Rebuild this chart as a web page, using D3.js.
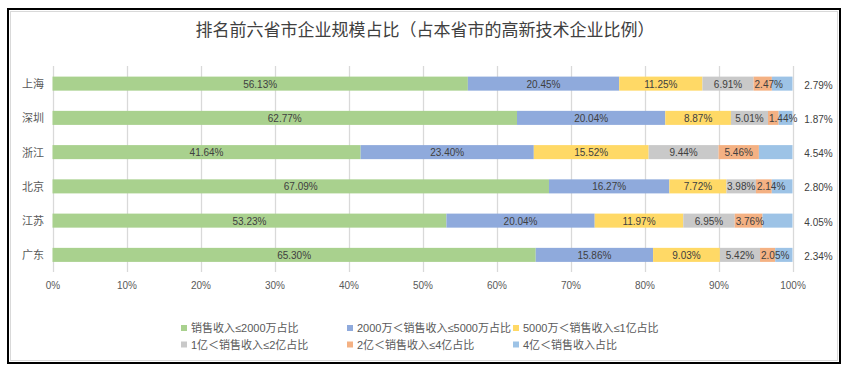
<!DOCTYPE html>
<html><head><meta charset="utf-8">
<script src="https://cdn.jsdelivr.net/npm/d3@7"></script>
<style>
html,body{margin:0;padding:0;background:#fff;}
svg{display:block;}
</style></head>
<body>
<svg id="chart" width="865" height="369"></svg>
<script>
const title = "排名前六省市企业规模占比（占本省市的高新技术企业比例）";
const categories = ["上海","深圳","浙江","北京","江苏","广东"];
const seriesNames = ["销售收入≤2000万占比","2000万＜销售收入≤5000万占比","5000万＜销售收入≤1亿占比","1亿＜销售收入≤2亿占比","2亿＜销售收入≤4亿占比","4亿＜销售收入占比"];
const seriesColors = ["#A9D18E","#8FAADC","#FFD966","#C9C9C9","#F4B183","#9DC3E6"];
const s1 = [56.13,62.77,41.64,67.09,53.23,65.30];
const s2 = [20.45,20.04,23.40,16.27,20.04,15.86];
const s3 = [11.25,8.87,15.52,7.72,11.97,9.03];
const s4 = [6.91,5.01,9.44,3.98,6.95,5.42];
const s5 = [2.47,1.44,5.46,2.14,3.76,2.05];
const s6 = [2.79,1.87,4.54,2.80,4.05,2.34];
const seriesValues = [s1,s2,s3,s4,s5,s6];
const xTicks = [0,10,20,30,40,50,60,70,80,90,100];

const svg = d3.select("#chart");
// frame
svg.append("rect").attr("x",8).attr("y",9).attr("width",832).attr("height",354)
  .attr("fill","#fff").attr("stroke","#000").attr("stroke-width",2);
svg.append("rect").attr("x",10.5).attr("y",11.5).attr("width",827).attr("height",349)
  .attr("fill","none").attr("stroke","#d9d9d9").attr("stroke-width",1);

svg.append("text").attr("x",425).attr("y",36).attr("text-anchor","middle")
  .attr("font-family","'Noto Sans CJK SC'").attr("font-size",17).attr("fill","#404040")
  .text(title);

const x = d3.scaleLinear().domain([0,100]).range([52.5,792.5]);
const y = d3.scaleBand().domain(categories).range([66.5,272]).paddingInner(0.59).paddingOuter(0.295);

// gridlines
svg.append("g").selectAll("line").data(xTicks).join("line")
  .attr("x1",d=>Math.round(x(d))+0.5).attr("x2",d=>Math.round(x(d))+0.5)
  .attr("y1",66).attr("y2",272).attr("stroke","#d9d9d9").attr("stroke-width",1.3);

// x axis labels
const xAxis = d3.axisBottom(x).tickValues(xTicks).tickFormat(d=>d+"%").tickSize(0).tickPadding(0);
const gx = svg.append("g").attr("transform","translate(0,282)").call(xAxis);
gx.select(".domain").remove();
gx.selectAll("text").attr("font-family","'Liberation Sans',Arial").attr("font-size",10).attr("fill","#595959");

// y axis labels
const yAxis = d3.axisLeft(y).tickSize(0).tickPadding(0);
const gy = svg.append("g").attr("transform","translate(44,1)").call(yAxis);
gy.select(".domain").remove();
gy.selectAll("text").attr("font-family","'Noto Sans CJK SC'").attr("font-size",11).attr("fill","#595959");

// stacked data
const rows = categories.map((c,i)=>{const o={cat:c}; seriesValues.forEach((s,k)=>o["k"+k]=s[i]); return o;});
const stack = d3.stack().keys(seriesValues.map((s,k)=>"k"+k));
const stacked = stack(rows);

const gBars = svg.append("g");
stacked.forEach((layer,k)=>{
  gBars.append("g").attr("fill",seriesColors[k]).selectAll("rect").data(layer).join("rect")
    .attr("x",d=>x(d[0])).attr("width",d=>x(Math.min(d[1],100))-x(d[0]))
    .attr("y",d=>y(d.data.cat)).attr("height",y.bandwidth());
});
const gLab = svg.append("g").attr("font-family","'Liberation Sans',Arial").attr("font-size",10)
  .attr("fill","#404040");
stacked.forEach((layer,k)=>{
  gLab.selectAll(null).data(layer).join("text")
    .attr("y",d=>y(d.data.cat)+y.bandwidth()/2 + (k===5?5:4))
    .text(d=>(d[1]-d[0]).toFixed(2)+"%")
    .each(function(d){
      const t = d3.select(this);
      const w = this.getComputedTextLength();
      const segW = x(d[1])-x(d[0]);
      if (k===5) { t.attr("x", x(100)+26).attr("text-anchor","middle"); }
      else if (w > segW) { t.attr("x", x(d[0])+1).attr("text-anchor","start"); }
      else { t.attr("x",(x(d[0])+x(d[1]))/2).attr("text-anchor","middle"); }
    });
});

// legend
const legendX = [181,347,513];
const legendY = [328,344.5];
const lg = svg.append("g").attr("font-family","'Liberation Sans','Noto Sans CJK SC'").attr("font-size",11).attr("fill","#595959");
seriesNames.forEach((n,k)=>{
  const lx = legendX[k%3], ly = legendY[Math.floor(k/3)];
  lg.append("rect").attr("x",lx).attr("y",ly-3).attr("width",6).attr("height",6).attr("fill",seriesColors[k]);
  lg.append("text").attr("x",lx+10).attr("y",ly+4).text(n);
});
</script>
</body></html>
